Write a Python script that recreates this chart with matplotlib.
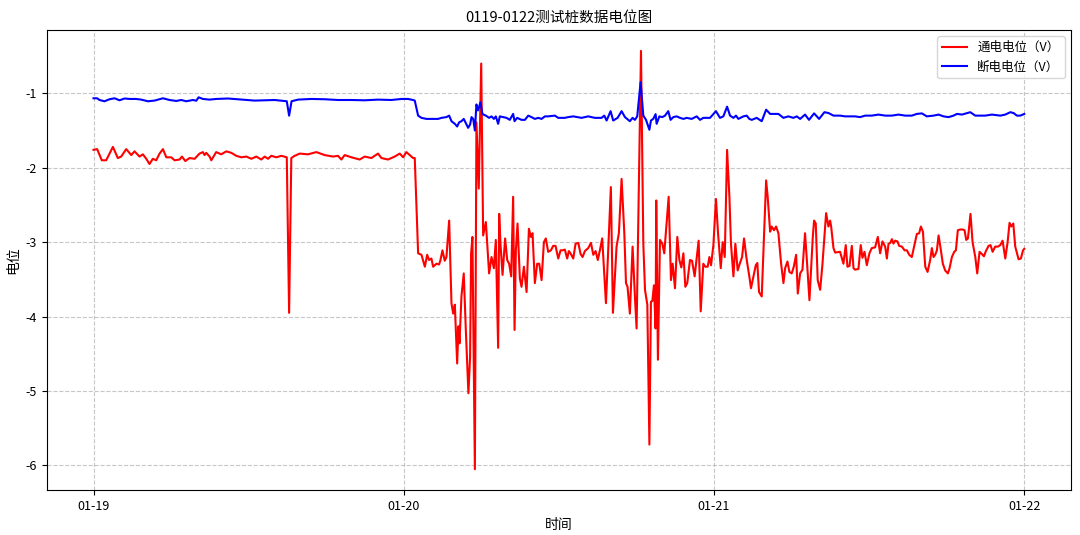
import matplotlib
matplotlib.use("Agg")
import matplotlib.pyplot as plt
import matplotlib.dates as mdates
import pandas as pd

plt.rcParams['font.family'] = ['Noto Sans CJK SC', 'DejaVu Sans']
plt.rcParams['axes.unicode_minus'] = False

start = pd.Timestamp("2025-01-19 00:00")

# 通电电位 (hours since 01-19 00:00, volts)
red_hours = [0.00, 0.28, 0.64, 0.98, 1.50, 1.88, 2.14, 2.53, 2.92, 3.17, 3.56, 3.82, 4.08, 4.33, 4.59, 4.85,
             5.11, 5.37, 5.63, 6.01, 6.27, 6.66, 6.84, 7.10, 7.43, 7.82, 8.20, 8.46, 8.59, 8.72, 8.98, 9.11,
             9.49, 9.88, 10.27, 10.66, 11.04, 11.43, 11.82, 12.21, 12.59, 12.98, 13.24, 13.50, 13.75, 14.14,
             14.53, 14.95, 15.13, 15.30, 15.56, 15.95, 16.59, 17.24, 17.88, 18.53, 18.91, 19.17, 19.43, 19.95,
             20.59, 20.98, 21.49, 22.01, 22.27, 22.78, 23.30, 23.69, 23.95, 24.20, 24.46, 24.72, 24.85, 25.11,
             25.37, 25.63, 25.81, 25.96, 26.14, 26.27, 26.53, 26.73, 26.84, 26.99, 27.17, 27.30, 27.51, 27.69,
             27.82, 27.95, 28.13, 28.23, 28.31, 28.46, 28.64, 28.80, 29.00, 29.13, 29.21, 29.31, 29.50, 29.62,
             29.80, 29.99, 30.14, 30.35, 30.60, 30.79, 30.97, 31.12, 31.30, 31.38, 31.48, 31.64, 31.84, 32.00,
             32.15, 32.31, 32.46, 32.57, 32.67, 32.80, 32.98, 33.11, 33.29, 33.50, 33.68, 33.83, 33.96, 34.14,
             34.32, 34.48, 34.66, 34.84, 34.99, 35.17, 35.38, 35.56, 35.74, 35.95, 36.13, 36.28, 36.46, 36.64,
             36.77, 36.93, 37.11, 37.29, 37.50, 37.68, 37.83, 38.01, 38.27, 38.48, 38.66, 38.84, 39.01, 39.17,
             39.35, 39.64, 40.02, 40.18, 40.46, 40.64, 40.85, 41.06, 41.19, 41.31, 41.49, 41.70, 41.88, 42.01,
             42.35, 42.53, 42.66, 42.84, 43.00, 43.12, 43.23, 43.35, 43.48, 43.53, 43.66, 43.82, 44.00, 44.15,
             44.49, 44.67, 44.80, 44.98, 45.16, 45.32, 45.47, 45.63, 45.78, 45.93, 46.14, 46.30, 46.50, 46.81,
             46.97, 47.17, 47.33, 47.51, 47.64, 47.77, 47.95, 48.15, 48.31, 48.52, 48.67, 48.83, 49.01, 49.19,
             49.31, 49.50, 49.65, 49.83, 49.99, 50.17, 50.32, 50.53, 50.73, 50.86, 51.05, 51.23, 51.35, 51.48,
             51.69, 52.03, 52.15, 52.34, 52.46, 52.64, 52.80, 52.98, 53.19, 53.37, 53.50, 53.68, 53.83, 54.01,
             54.17, 54.35, 54.48, 54.66, 54.84, 55.04, 55.20, 55.38, 55.64, 55.74, 55.87, 56.02, 56.21, 56.39,
             56.54, 56.67, 56.85, 56.98, 57.06, 57.24, 57.37, 57.75, 58.01, 58.19, 58.32, 58.48, 58.66, 58.79,
             58.91, 59.17, 59.35, 59.48, 59.64, 59.82, 60.02, 60.20, 60.46, 60.67, 60.85, 61.03, 61.24, 61.37,
             61.50, 61.63, 61.76, 61.88, 62.01, 62.19, 62.32, 62.53, 62.74, 62.92, 63.10, 63.30, 63.48, 63.69,
             63.87, 64.00, 64.16, 64.34, 64.52, 64.72, 64.85, 64.98, 65.11, 65.24, 65.37, 65.55, 65.70, 65.88,
             66.09, 66.22, 66.40, 66.58, 66.71, 66.86, 67.04, 67.22, 67.38, 67.51, 67.64, 67.84, 68.00, 68.21,
             68.36, 68.54, 68.72, 68.88, 69.03, 69.24, 69.39, 69.55, 69.75, 69.96, 70.14, 70.32, 70.53, 70.71,
             70.86, 70.99, 71.15, 71.30, 71.56, 71.74, 71.90, 72.00]
red_volts = [-1.76, -1.75, -1.90, -1.90, -1.72, -1.87, -1.85, -1.75, -1.83, -1.78, -1.85, -1.82, -1.88, -1.95, -1.88, -1.90,
             -1.81, -1.75, -1.86, -1.86, -1.90, -1.89, -1.85, -1.91, -1.87, -1.88, -1.81, -1.79, -1.83, -1.80, -1.85, -1.90,
             -1.79, -1.82, -1.78, -1.80, -1.84, -1.86, -1.85, -1.88, -1.85, -1.89, -1.85, -1.88, -1.84, -1.86,
             -1.84, -1.86, -3.95, -1.87, -1.84, -1.81, -1.82, -1.79, -1.83, -1.85, -1.84, -1.89, -1.83, -1.86,
             -1.89, -1.85, -1.87, -1.81, -1.87, -1.89, -1.85, -1.81, -1.86, -1.79, -1.83, -1.87, -1.87, -3.15,
             -3.17, -3.33, -3.17, -3.24, -3.22, -3.33, -3.29, -3.30, -3.24, -3.11, -3.25, -3.20, -2.71, -3.82,
             -3.96, -3.84, -4.63, -4.13, -4.36, -3.73, -3.42, -4.18, -5.03, -4.54, -3.15, -2.93, -6.05, -1.39,
             -2.28, -0.60, -2.91, -2.73, -3.42, -3.20, -3.35, -2.97, -4.42, -2.62, -3.02, -3.44, -2.95, -3.24,
             -3.29, -3.46, -2.39, -4.18, -3.11, -2.75, -3.49, -3.60, -3.33, -3.67, -2.82, -2.93, -2.88, -3.55,
             -3.29, -3.29, -3.51, -3.00, -2.95, -3.13, -3.11, -3.05, -3.05, -3.22, -3.11, -3.11, -3.10, -3.22,
             -3.12, -3.16, -3.22, -3.02, -3.01, -3.16, -3.20, -3.12, -3.08, -3.01, -3.17, -3.12, -3.24, -3.11,
             -2.95, -3.82, -2.26, -3.95, -3.06, -2.88, -2.15, -2.88, -3.55, -3.60, -3.96, -3.06, -3.73, -4.16,
             -0.43, -3.02, -3.64, -3.84, -5.72, -3.80, -3.79, -3.58, -4.16, -2.44, -4.58, -2.97, -3.02, -3.15,
             -2.39, -3.51, -3.29, -3.62, -2.93, -3.24, -3.34, -3.15, -3.60, -3.55, -3.24, -3.25, -3.46, -2.98,
             -3.93, -3.29, -3.33, -3.33, -3.20, -3.31, -3.04, -2.42, -2.88, -3.35, -3.00, -3.20, -1.76, -2.39,
             -3.02, -3.46, -3.02, -3.38, -3.29, -3.20, -2.95, -3.24, -3.46, -3.62, -3.46, -3.31, -3.28, -3.67,
             -3.73, -2.17, -2.39, -2.86, -2.79, -2.84, -2.79, -2.88, -3.29, -3.55, -3.35, -3.26, -3.40, -3.42,
             -3.33, -3.17, -3.69, -3.42, -3.37, -2.88, -3.29, -3.78, -2.93, -2.71, -2.75, -3.51, -3.64, -3.29,
             -2.93, -2.61, -2.79, -2.71, -2.79, -3.08, -3.14, -3.13, -3.29, -3.04, -3.33, -3.32, -3.05, -3.35,
             -3.37, -3.36, -3.04, -3.21, -3.13, -3.31, -3.15, -3.08, -3.07, -2.93, -3.15, -2.99, -3.06, -3.22,
             -3.02, -3.01, -2.96, -3.02, -2.98, -2.99, -3.05, -3.06, -3.11, -3.11, -3.17, -3.20, -3.06, -2.89,
             -2.88, -2.79, -2.86, -3.33, -3.40, -3.24, -3.08, -3.20, -3.17, -3.11, -2.91, -3.11, -3.29, -3.38,
             -3.42, -3.35, -3.20, -3.13, -3.11, -2.84, -2.83, -2.83, -2.84, -2.97, -2.95, -2.62, -3.00, -3.20,
             -3.42, -3.13, -3.16, -3.19, -3.12, -3.05, -3.04, -3.13, -3.06, -3.06, -3.04, -2.98, -3.22, -3.00,
             -2.74, -2.79, -2.75, -3.06, -3.23, -3.22, -3.11, -3.09]

# 断电电位 (hours since 01-19 00:00, volts)
blue_hours = [0.00, 0.28, 0.46, 0.85, 1.24, 1.63, 2.01, 2.40, 2.79, 3.30, 3.69, 4.21, 4.72, 5.37, 5.88, 6.40,
              6.79, 7.17, 7.69, 7.95, 8.13, 8.46, 8.98, 9.49, 10.40, 11.17, 11.95, 12.46, 13.24, 14.01, 14.95,
              15.13, 15.32, 15.82, 16.85, 17.88, 18.91, 19.95, 20.98, 22.01, 23.04, 23.82, 24.33, 24.72, 24.85,
              25.11, 25.37, 25.75, 26.27, 26.66, 26.92, 27.30, 27.51, 27.69, 27.95, 28.13, 28.28, 28.46, 28.64,
              28.80, 28.98, 29.13, 29.24, 29.37, 29.50, 29.62, 29.75, 29.93, 30.09, 30.35, 30.60, 30.79, 30.97,
              31.12, 31.30, 31.43, 31.69, 31.95, 32.20, 32.46, 32.57, 32.77, 33.11, 33.37, 33.63, 33.88, 34.14,
              34.40, 34.66, 34.92, 35.17, 35.69, 35.95, 36.46, 36.72, 37.11, 37.75, 38.27, 38.78, 39.30, 39.51,
              39.69, 40.00, 40.20, 40.54, 40.85, 41.11, 41.49, 41.70, 41.88, 42.06, 42.32, 42.53, 42.74, 43.00,
              43.12, 43.30, 43.48, 43.56, 43.77, 44.00, 44.21, 44.46, 44.64, 44.85, 45.11, 45.37, 45.63, 45.88,
              46.27, 46.66, 46.92, 47.17, 47.69, 48.15, 48.46, 48.72, 49.01, 49.24, 49.50, 49.70, 49.88, 50.27,
              50.53, 50.73, 50.92, 51.30, 51.69, 52.03, 52.34, 52.98, 53.37, 53.75, 54.14, 54.40, 54.66, 55.04,
              55.35, 55.74, 56.13, 56.54, 56.85, 57.24, 57.75, 58.14, 58.53, 58.91, 59.30, 59.69, 60.20, 60.72,
              61.24, 61.76, 62.27, 62.79, 63.30, 63.69, 64.08, 64.46, 64.98, 65.37, 65.75, 66.14, 66.53, 66.79,
              67.18, 67.82, 68.21, 68.46, 68.98, 69.50, 70.14, 70.53, 70.92, 71.17, 71.43, 71.69, 72.00]
blue_volts = [-1.067, -1.067, -1.09, -1.107, -1.08, -1.067, -1.094, -1.07, -1.076, -1.076, -1.085, -1.107, -1.098, -1.067, -1.09, -1.103,
              -1.09, -1.107, -1.09, -1.10, -1.054, -1.076, -1.085, -1.076, -1.07, -1.08, -1.09, -1.098, -1.094, -1.09, -1.107,
              -1.30, -1.107, -1.085, -1.076, -1.08, -1.09, -1.09, -1.094, -1.085, -1.09, -1.076, -1.076, -1.09, -1.098,
              -1.30, -1.33, -1.344, -1.344, -1.344, -1.33, -1.32, -1.30, -1.375, -1.41, -1.446, -1.39, -1.375, -1.344,
              -1.40, -1.464, -1.42, -1.32, -1.344, -1.50, -1.15, -1.23, -1.12, -1.28, -1.30, -1.33, -1.31, -1.344,
              -1.31, -1.41, -1.31, -1.32, -1.33, -1.357, -1.277, -1.375, -1.33, -1.357, -1.357, -1.30, -1.32, -1.344,
              -1.33, -1.344, -1.31, -1.31, -1.30, -1.33, -1.33, -1.32, -1.31, -1.33, -1.31, -1.33, -1.33, -1.30,
              -1.366, -1.24, -1.366, -1.33, -1.24, -1.32, -1.375, -1.33, -1.357, -1.31, -0.85, -1.30, -1.357, -1.49,
              -1.366, -1.344, -1.28, -1.41, -1.31, -1.32, -1.30, -1.24, -1.357, -1.32, -1.31, -1.33, -1.344, -1.33,
              -1.344, -1.31, -1.357, -1.33, -1.33, -1.24, -1.33, -1.31, -1.18, -1.30, -1.33, -1.30, -1.344, -1.31,
              -1.30, -1.344, -1.357, -1.33, -1.375, -1.22, -1.277, -1.277, -1.33, -1.31, -1.33, -1.31, -1.344, -1.286,
              -1.357, -1.27, -1.344, -1.254, -1.265, -1.30, -1.30, -1.31, -1.31, -1.31, -1.32, -1.30, -1.30, -1.286,
              -1.30, -1.30, -1.286, -1.30, -1.30, -1.277, -1.27, -1.31, -1.30, -1.286, -1.31, -1.32, -1.30, -1.277,
              -1.286, -1.254, -1.30, -1.30, -1.30, -1.286, -1.30, -1.286, -1.254, -1.265, -1.30, -1.30, -1.277]

title = "0119-0122测试桩数据电位图"
label_on = "通电电位（V）"
label_off = "断电电位（V）"

red_t = start + pd.to_timedelta(red_hours, unit="h")
blue_t = start + pd.to_timedelta(blue_hours, unit="h")

fig = plt.figure(figsize=(10.8, 5.35), dpi=100)
ax = fig.add_axes([0.0435, 0.084, 0.948, 0.860])
ax.plot(red_t, red_volts, color="red", lw=1.5, label=label_on)
ax.plot(blue_t, blue_volts, color="blue", lw=1.5, label=label_off)

ax.xaxis.set_major_locator(mdates.DayLocator())
ax.xaxis.set_major_formatter(mdates.DateFormatter("%m-%d"))
ax.grid(True, linestyle="--", color="#b0b0b0", alpha=0.7, lw=0.8)
ax.set_title(title, fontsize=10.5)
ax.set_xlabel("时间", fontsize=10)
ax.set_ylabel("电位", fontsize=10)
ax.tick_params(labelsize=9)
ax.legend(loc="upper right", fontsize=9)

fig.savefig("out.png", dpi=100)
